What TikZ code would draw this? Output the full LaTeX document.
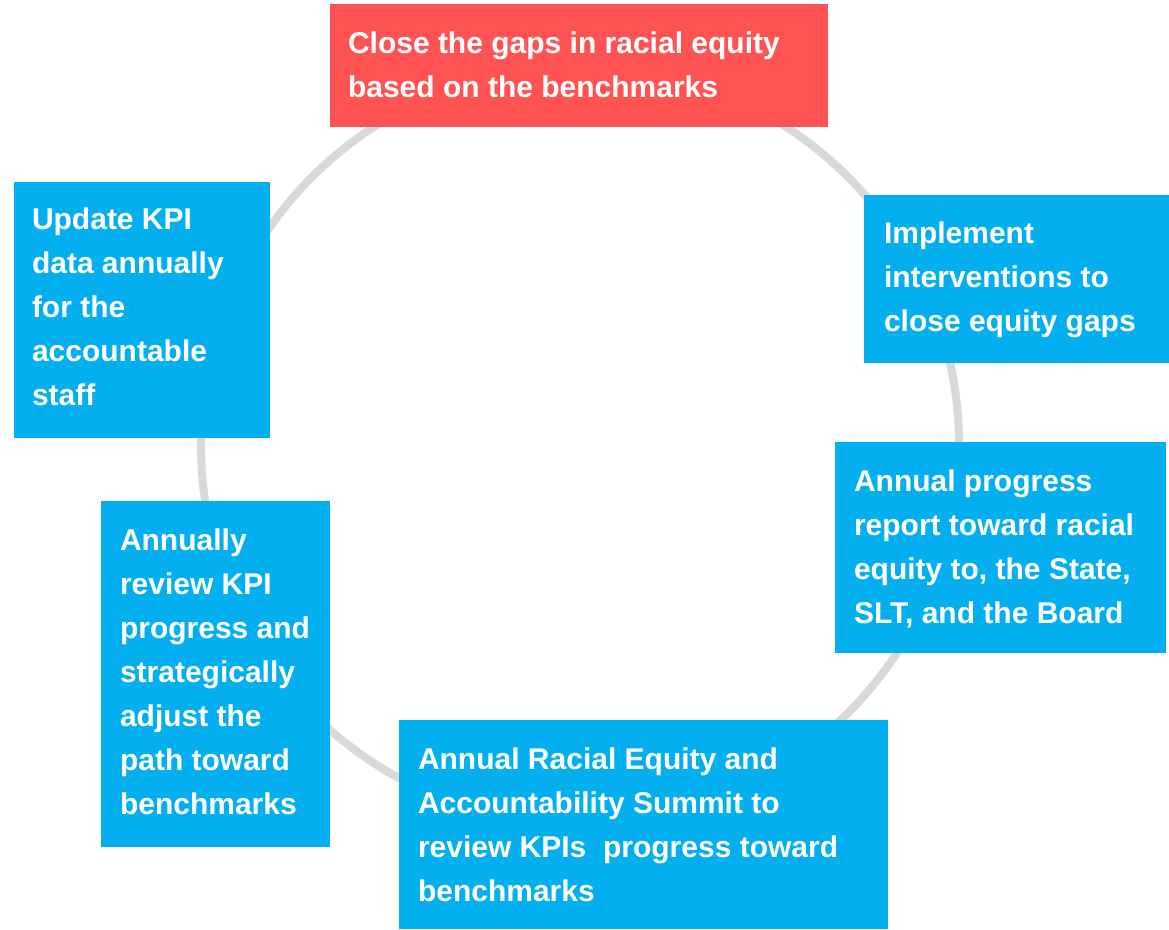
\documentclass[tikz,border=0pt]{standalone}
\usepackage{fontspec}
\setmainfont{Liberation Sans}
\definecolor{boxblue}{HTML}{03AFEF}
\definecolor{boxred}{HTML}{FF5252}
\definecolor{ringgray}{HTML}{D9D9D9}
\newcommand\firstlinestrut{\rule{0pt}{34pt}}
\begin{document}
\begin{tikzpicture}[x=1pt,y=-1pt,
  panel/.style={rectangle,draw=none,inner sep=0pt,outer sep=0pt,anchor=north west},
  label/.style={anchor=north west,inner sep=0pt,outer sep=0pt,align=left,text=white,
    font=\fontsize{30}{44}\selectfont\bfseries},
  ring/.style={circle,draw=ringgray,line width=8pt,inner sep=0pt,minimum size=758pt}]
\useasboundingbox (0,0) rectangle (1169,929);
\fill[white] (0,0) rectangle (1169,929);
\node[ring] (cycle) at (580,445) {};
% boxes
\node[panel,fill=boxred,minimum width=498pt,minimum height=123pt]  (b1) at (330,4) {};
\node[panel,fill=boxblue,minimum width=256pt,minimum height=256pt] (b2) at (14,182) {};
\node[panel,fill=boxblue,minimum width=305pt,minimum height=168pt] (b3) at (864,195) {};
\node[panel,fill=boxblue,minimum width=331pt,minimum height=211pt] (b4) at (835,442) {};
\node[panel,fill=boxblue,minimum width=229pt,minimum height=346pt] (b5) at (101,501) {};
\node[panel,fill=boxblue,minimum width=489pt,minimum height=209pt] (b6) at (399,720) {};
% texts
\node[label] (t1) at (348,53-34) {\firstlinestrut Close the gaps in racial equity\\based on the benchmarks};
\node[label] (t2) at (32,229-34) {\firstlinestrut Update KPI\\data annually\\for the\\accountable\\staff};
\node[label] (t3) at (884,243-34) {\firstlinestrut Implement\\interventions to\\close equity gaps};
\node[label] (t4) at (854,491-34) {\firstlinestrut Annual progress\\report toward racial\\equity to, the State,\\SLT, and the Board};
\node[label] (t5) at (120,550-34) {\firstlinestrut Annually\\review KPI\\progress and\\strategically\\adjust the\\path toward\\benchmarks};
\node[label] (t6) at (418,769-34) {\firstlinestrut Annual Racial Equity and\\Accountability Summit to\\review KPIs~ progress toward\\benchmarks};
\end{tikzpicture}
\end{document}
